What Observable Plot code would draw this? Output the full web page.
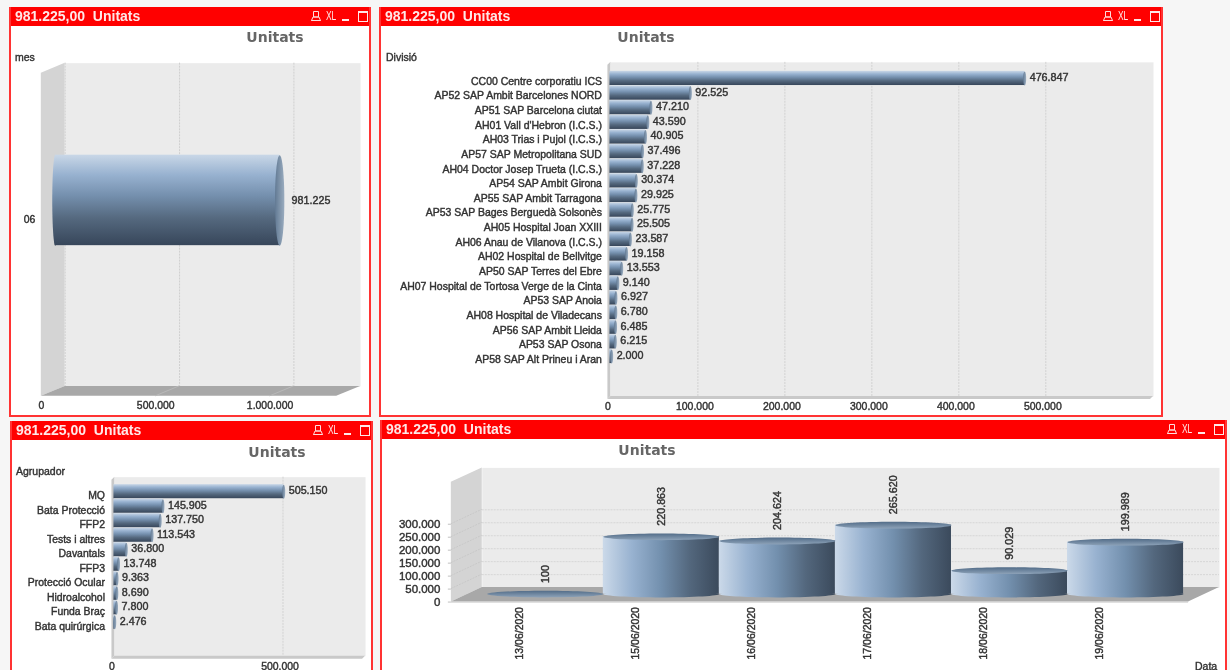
<!DOCTYPE html>
<html><head><meta charset="utf-8">
<script src="https://cdn.jsdelivr.net/npm/d3@7"></script>
<script src="https://cdn.jsdelivr.net/npm/@observablehq/plot@0.6"></script>
<style>
html,body{margin:0;padding:0;background:#f6f6f6;width:1230px;height:670px;overflow:hidden;font-family:"Liberation Sans",Arial,sans-serif}
.panel{position:absolute;background:#fff;box-sizing:border-box;border:2px solid #ff3333;border-top:none;overflow:hidden;filter:blur(.35px)}
.head{position:absolute;left:-2px;right:-2px;top:0;height:19px;background:#ff0000;color:#ffe8e8;font:bold 14px "Liberation Sans",Arial,sans-serif;line-height:19px;white-space:pre;z-index:3}
.head span.t{position:absolute;left:6px;top:0}
.head span.xl{position:absolute;top:0;font:12px "Liberation Sans",Arial,sans-serif;line-height:18px;transform:scaleX(.7);transform-origin:left}
.head svg{position:absolute;top:0}
.ttl{position:absolute;font:bold 14px "DejaVu Sans",sans-serif;color:#666;z-index:2;transform:translateX(-50%);white-space:pre}
.dim{position:absolute;font:10.5px "Liberation Sans",Arial,sans-serif;color:#333;-webkit-text-stroke:.4px #333;z-index:2;white-space:pre}
.panel figure,.panel svg.plot{margin:0}
.chart{position:absolute;left:-2px;top:0}
.chart svg text{stroke:#333;stroke-width:.42px}
</style></head>
<body>
<svg width="0" height="0" style="position:absolute">
<defs>
<linearGradient id="cylV" x1="0" y1="0" x2="0" y2="1">
<stop offset="0" stop-color="#c9d7e7"/><stop offset=".22" stop-color="#98b2d0"/><stop offset=".45" stop-color="#7590ae"/><stop offset=".7" stop-color="#55697f"/><stop offset="1" stop-color="#37465a"/>
</linearGradient>
<linearGradient id="cylH" x1="0" y1="0" x2="1" y2="0">
<stop offset="0" stop-color="#cbd9e9"/><stop offset=".25" stop-color="#98b2d0"/><stop offset=".5" stop-color="#7390ae"/><stop offset=".75" stop-color="#53677d"/><stop offset="1" stop-color="#3b4a5c"/>
</linearGradient>
<linearGradient id="capR" x1="0" y1="0" x2="1" y2="0">
<stop offset="0" stop-color="#627a94"/><stop offset="1" stop-color="#9aacbf"/>
</linearGradient>
<linearGradient id="capT" x1="0" y1="0" x2="0" y2="1">
<stop offset="0" stop-color="#526c88"/><stop offset="1" stop-color="#8ea3b9"/>
</linearGradient>
</defs></svg>
<script>
// ---- data ----
const mesCats = ["06"];
const mesValues = [981225];
const mesTicks = [0, 500000, 1000000];

const divisioCats = ["CC00 Centre corporatiu ICS","AP52 SAP Ambit Barcelones NORD","AP51 SAP Barcelona ciutat","AH01 Vall d'Hebron (I.C.S.)","AH03 Trias i Pujol (I.C.S.)","AP57 SAP Metropolitana SUD","AH04 Doctor Josep Trueta (I.C.S.)","AP54 SAP Ambit Girona","AP55 SAP Ambit Tarragona","AP53 SAP Bages Berguedà Solsonès","AH05 Hospital Joan XXIII","AH06 Anau de Vilanova (I.C.S.)","AH02 Hospital de Bellvitge","AP50 SAP Terres del Ebre","AH07 Hospital de Tortosa Verge de la Cinta","AP53 SAP Anoia","AH08 Hospital de Viladecans","AP56 SAP Ambit Lleida","AP53 SAP Osona","AP58 SAP Alt Prineu i Aran"];
const divisioValues = [476847,92525,47210,43590,40905,37496,37228,30374,29925,25775,25505,23587,19158,13553,9140,6927,6780,6485,6215,2000];
const divisioTicks = [0,100000,200000,300000,400000,500000];

const agrupCats = ["MQ","Bata Protecció","FFP2","Tests i altres","Davantals","FFP3","Protecció Ocular","Hidroalcohol","Funda Braç","Bata quirúrgica"];
const agrupValues = [505150,145905,137750,113543,36800,13748,9363,8690,7800,2476];
const agrupTicks = [0,500000];

const dataCats = ["13/06/2020","15/06/2020","16/06/2020","17/06/2020","18/06/2020","19/06/2020"];
const dataValues = [100,220863,204624,265620,90029,199989];
const dataTicks = [0,50000,100000,150000,200000,250000,300000];

const headerText = "981.225,00  Unitats";
const chartTitle = "Unitats";

// ---- helpers ----
const fmt = d3.formatLocale({decimal:",",thousands:".",grouping:[3],currency:["",""]}).format(",");
const table = (cats, vals) => cats.map((c,i)=>({c, v:vals[i], zero:0}));
const FONT = '"Liberation Sans",Arial,sans-serif';
const txt = "#3a3a3a";
const ell = (rx,ry)=>({draw(ctx){
  const k=.5523;
  ctx.moveTo(-rx,0);
  ctx.bezierCurveTo(-rx,-ry*k,-rx*k,-ry,0,-ry);
  ctx.bezierCurveTo(rx*k,-ry,rx,-ry*k,rx,0);
  ctx.bezierCurveTo(rx,ry*k,rx*k,ry,0,ry);
  ctx.bezierCurveTo(-rx*k,ry,-rx,ry*k,-rx,0);
  ctx.closePath();
}});
// 3D box: side wall and floor are derived from the plot's frame and scales
const box = ({dx,dy,wall="#d4d4d4",floor="#a8a8a8",ticksX=[],ticksY=[],edge=null}) => (index,scales,values,dim)=>{
  const L=dim.marginLeft,R=dim.width-dim.marginRight,T=dim.marginTop,B=dim.height-dim.marginBottom;
  const g=d3.create("svg:g");
  const poly=(pts,fill)=>g.append("path").attr("d","M"+pts.map(p=>p.join(",")).join("L")+"Z").attr("fill",fill);
  poly([[L,T],[L+dx,T-dy],[L+dx,B-dy],[L,B]],wall);
  poly([[L,B],[L+dx,B-dy],[R+dx,B-dy],[R,B]],floor);
  for(const t of ticksX){const x=scales.x(t);g.append("line").attr("x1",x).attr("y1",B).attr("x2",x+dx).attr("y2",B-dy).attr("stroke","#b8b8b8");}
  for(const t of ticksY){const y=scales.y(t);g.append("line").attr("x1",L).attr("y1",y).attr("x2",L+dx).attr("y2",y-dy).attr("stroke","#c8c8c8").attr("stroke-dasharray","2,1");}
  if(edge) g.append("line").attr("x1",L).attr("y1",B+.5).attr("x2",R).attr("y2",B+.5).attr("stroke",edge);
  return g.node();
};
const iconPrint='<svg width="10" height="12" viewBox="0 0 10 12" fill="none" stroke="#ffdcdc" stroke-width="1"><path d="M2.5 1.5h5v5.5h-5zM.5 10.5l1.5-3.5h6l1.5 3.5zM.5 10.5h9"/></svg>';
function addPanel(p){
  const d=document.createElement("div");d.className="panel";
  Object.assign(d.style,{left:p.x+"px",top:p.y+"px",width:p.w+"px",height:p.h+"px"});
  const r=p.w;
  d.innerHTML=`<div class="head"><span class="t">${headerText}</span>
  <span style="position:absolute;left:${r-60}px;top:3px;width:10px;height:12px;display:block">${iconPrint}</span>
  <span class="xl" style="left:${r-45}px">XL</span>
  <span style="position:absolute;left:${r-29}px;top:12px;width:7px;height:2px;background:#ffe8e8"></span>
  <span style="position:absolute;left:${r-13}px;top:4px;width:8px;height:8px;border:1px solid #ffe8e8;border-top-width:2px"></span></div>
  <div class="ttl" style="left:${p.titleX-p.x-2}px;top:${p.titleY-p.y-8}px">${chartTitle}</div>
  ${p.dim?`<div class="dim" style="left:${p.dimX-p.x-2}px;top:${p.dimY-p.y-6}px">${p.dim}</div>`:""}`;
  const c=document.createElement("div");c.className="chart";c.appendChild(p.chart);d.appendChild(c);
  document.body.appendChild(d);
}
const base={style:{fontFamily:FONT,background:"transparent",color:txt,overflow:"visible"}};
const axisTxt={fontSize:10.5,fill:"#333"};
const valTxt={fontSize:10.8,fill:"#333",fontFamily:FONT};

// ---- Panel 1: mes ----
{
 const p={x:9,y:7,w:362,h:410};
 const D=table(mesCats,mesValues);
 const off=14, cy=-34.5;
 p.chart=Plot.plot({...base,width:p.w,height:p.h,
  marginLeft:41-p.x,marginRight:p.x+p.w-338,marginTop:73-p.y,marginBottom:p.y+p.h-398,
  x:{domain:[0,1291304],axis:null},
  y:{domain:mesCats,axis:null,paddingInner:0,paddingOuter:1.286,round:false},
  marks:[
   Plot.frame({fill:"#ebebeb",stroke:null,dx:24,dy:-10}),
   box({dx:24,dy:10,ticksX:mesTicks.slice(1)}),
   Plot.gridX(mesTicks,{stroke:"#cfcfcf",strokeOpacity:1,strokeDasharray:"2,1",dx:24,dy:-10}),
   Plot.axisX({ticks:mesTicks,tickFormat:fmt,tickSize:0,tickPadding:5,...axisTxt,label:null}),
   Plot.axisY({tickSize:0,tickPadding:6,dy:-15.5,...axisTxt,label:null}),
   Plot.dot(D,{x:"zero",y:"c",symbol:ell(3,45.5),fill:"url(#cylV)",dx:off,dy:cy}),
   Plot.barX(D,{x:"v",y:"c",fill:"url(#cylV)",dx:off,dy:cy}),
   Plot.dot(D,{x:"v",y:"c",symbol:ell(4.7,45.5),fill:"url(#capR)",dx:off,dy:cy}),
   Plot.text(D,{x:"v",y:"c",text:d=>fmt(d.v),textAnchor:"start",dx:26,dy:cy,...valTxt})
  ]});
 Object.assign(p,{titleX:275,titleY:37,dim:"mes",dimX:15,dimY:57});
 addPanel(p);
}
// ---- Panel 2: Divisió ----
{
 const p={x:379,y:7,w:784,h:410};
 const D=table(divisioCats,divisioValues);
 p.chart=Plot.plot({...base,width:p.w,height:p.h,
  marginLeft:608-p.x,marginRight:p.x+p.w-1152,marginTop:65-p.y,marginBottom:p.y+p.h-400,
  x:{domain:[0,623853],axis:null},
  y:{domain:divisioCats,axis:null,range:[71-p.y,364-p.y],paddingInner:.03,paddingOuter:0,round:false},
  marks:[
   Plot.frame({fill:"#ebebeb",stroke:null,dx:3,dy:-3}),
   box({dx:3,dy:3,wall:"#c9c9c9",floor:"#c9c9c9"}),
   Plot.gridX(divisioTicks.slice(1),{stroke:"#d2d2d2",strokeOpacity:1,strokeDasharray:"2,1",dx:3,dy:-3}),
   Plot.axisX({ticks:divisioTicks,tickFormat:fmt,tickSize:0,tickPadding:3,...axisTxt,label:null}),
   Plot.axisY({tickSize:0,tickPadding:6,dy:3,...axisTxt,label:null,tickFormat:d=>d}),
   Plot.barX(D,{x:"v",y:"c",fill:"url(#cylV)",dx:2}),
   Plot.dot(D,{x:"v",y:"c",symbol:ell(1.5,7),fill:"url(#capR)",dx:2}),
   Plot.text(D,{x:"v",y:"c",text:d=>fmt(d.v),textAnchor:"start",dx:7,dy:-1,...valTxt})
  ]});
 Object.assign(p,{titleX:646,titleY:37,dim:"Divisió",dimX:386,dimY:57});
 addPanel(p);
}
// ---- Panel 3: Agrupador ----
{
 const p={x:10,y:421+0,w:363,h:300};
 const D=table(agrupCats,agrupValues);
 p.chart=Plot.plot({...base,width:p.w,height:p.h,
  marginLeft:112-p.x,marginRight:p.x+p.w-364,marginTop:480-p.y,marginBottom:p.y+p.h-660,
  x:{domain:[0,745562],axis:null},
  y:{domain:agrupCats,axis:null,range:[484.5-p.y,630-p.y],paddingInner:.03,paddingOuter:0,round:false},
  marks:[
   Plot.frame({fill:"#ebebeb",stroke:null,dx:3,dy:-3}),
   box({dx:3,dy:3,wall:"#c9c9c9",floor:"#c9c9c9"}),
   Plot.gridX(agrupTicks.slice(1),{stroke:"#d2d2d2",strokeOpacity:1,strokeDasharray:"2,1",dx:3,dy:-3}),
   Plot.axisX({ticks:agrupTicks,tickFormat:fmt,tickSize:0,tickPadding:3,...axisTxt,label:null}),
   Plot.axisY({tickSize:0,tickPadding:7,dy:4,...axisTxt,label:null,tickFormat:d=>d}),
   Plot.barX(D,{x:"v",y:"c",fill:"url(#cylV)",dx:2}),
   Plot.dot(D,{x:"v",y:"c",symbol:ell(1.5,7),fill:"url(#capR)",dx:2}),
   Plot.text(D,{x:"v",y:"c",text:d=>fmt(d.v),textAnchor:"start",dx:7,dy:-1,...valTxt})
  ]});
 Object.assign(p,{titleX:277,titleY:452,dim:"Agrupador",dimX:16,dimY:471});
 addPanel(p);
}
// ---- Panel 4: Data ----
{
 const p={x:380,y:420,w:847,h:300};
 const D=table(dataCats,dataValues);
 p.chart=Plot.plot({...base,width:p.w,height:p.h,
  marginLeft:451-p.x,marginRight:p.x+p.w-1190,marginTop:482-p.y,marginBottom:p.y+p.h-602,
  x:{type:"band",domain:dataCats,axis:null,range:[487-p.x,1185-p.x],padding:0,round:false},
  y:{domain:[0,461538],axis:null},
  marks:[
   Plot.frame({fill:"#ebebeb",stroke:null,dx:31,dy:-14.5}),
   box({dx:31,dy:14.5,ticksY:dataTicks.slice(1),edge:"#c8c8c8"}),
   Plot.gridY(dataTicks.slice(1),{stroke:"#d6d6d6",strokeOpacity:1,strokeDasharray:"2,1",dx:31,dy:-14.5}),
   Plot.axisY({ticks:dataTicks,tickFormat:fmt,tickSize:3,tickPadding:8,stroke:"#c0c0c0",...axisTxt,fontSize:11.5,label:null}),
   Plot.axisX({tickRotate:-90,tickSize:0,tickPadding:5,dx:-26,...axisTxt,label:null}),
   Plot.dot(D.filter(d=>d.v>1000),{x:"c",y:"zero",symbol:ell(58.2,3.4),fill:"url(#cylH)",dy:-8}),
   Plot.barY(D,{x:"c",y:"v",fill:"url(#cylH)",dy:-8}),
   Plot.dot(D,{x:"c",y:"v",symbol:ell(58.2,3.4),fill:"url(#capT)",dy:-8}),
   Plot.text(D,{x:"c",y:"v",text:d=>fmt(d.v),rotate:-90,textAnchor:"start",dy:-19,...valTxt,fontSize:10.8})
  ]});
 Object.assign(p,{titleX:647,titleY:450,dim:"Data",dimX:1195,dimY:666});
 addPanel(p);
}
</script>
</body></html>
